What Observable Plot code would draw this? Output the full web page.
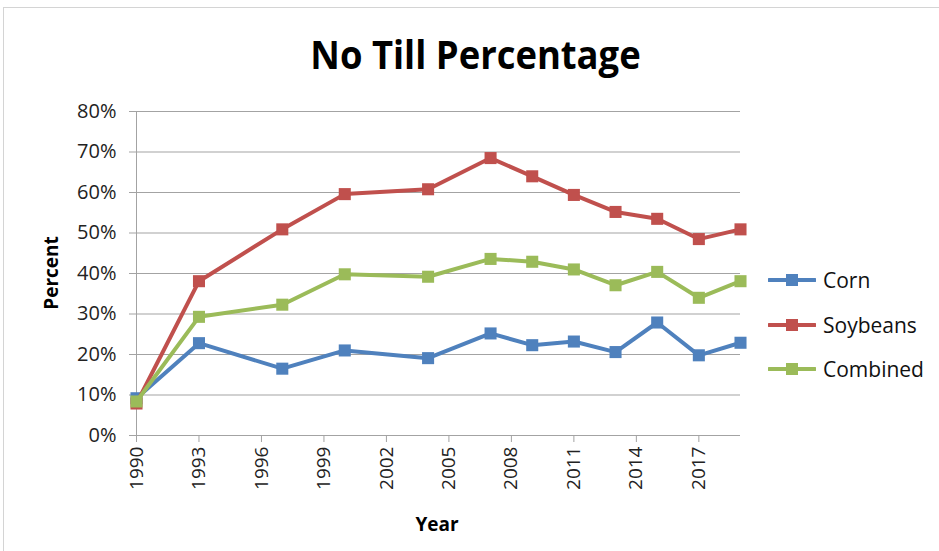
<!DOCTYPE html>
<html>
<head>
<meta charset="utf-8">
<script src="https://cdn.jsdelivr.net/npm/d3@7"></script>
<script src="https://cdn.jsdelivr.net/npm/@observablehq/plot@0.6"></script>
<style>
  html, body { margin: 0; padding: 0; background: #fff; }
  #wrap { position: relative; width: 939px; height: 551px; overflow: hidden; font-family: "Open Sans", sans-serif; }
  #frame { position: absolute; left: 3px; top: 7px; width: 960px; height: 580px; border: 1px solid #d4d4d4; box-sizing: border-box; }
  #title { position: absolute; left: 0; width: 952px; top: 26px; text-align: center; font-weight: bold; font-size: 40px; color: #000; line-height: 56px; }
  #title span { display: inline-block; transform: scaleX(0.91); }
  .axtitle { position: absolute; font-weight: bold; font-size: 19px; color: #000; white-space: nowrap; }
  #ytitle { left: 51px; top: 273px; transform: translate(-50%, -50%) rotate(-90deg); }
  #xtitle { left: 437px; top: 524px; transform: translate(-50%, -50%); }
  #legend { position: absolute; left: 768px; top: 258px; }
  .lrow { display: flex; align-items: center; height: 44.5px; font-size: 21px; color: #111; }
  .lrow svg { margin-right: 7px; }
  #chart { position: absolute; left: 0; top: 0; }
</style>
</head>
<body>
<div id="wrap">
  <div id="frame"></div>
  <div id="chart"></div>
  <div id="title"><span>No Till Percentage</span></div>
  <div class="axtitle" id="ytitle">Percent</div>
  <div class="axtitle" id="xtitle">Year</div>
  <div id="legend"></div>
</div>
<script>
const years = [1990, 1993, 1997, 2000, 2004, 2007, 2009, 2011, 2013, 2015, 2017, 2019];
const corn = [9.2, 22.8, 16.5, 21.0, 19.1, 25.2, 22.3, 23.2, 20.6, 27.9, 19.8, 22.9];
const soybeans = [7.9, 38.1, 50.9, 59.6, 60.8, 68.5, 64.0, 59.4, 55.2, 53.5, 48.5, 50.9];
const combined = [8.4, 29.3, 32.3, 39.8, 39.2, 43.6, 42.9, 41.0, 37.1, 40.4, 34.0, 38.1];
const seriesNames = ["Corn", "Soybeans", "Combined"];
const seriesColors = ["#4F81BD", "#C0504D", "#9BBB59"];
const xTicks = [1990, 1993, 1996, 1999, 2002, 2005, 2008, 2011, 2014, 2017];
const yTicks = [0, 10, 20, 30, 40, 50, 60, 70, 80];

const seriesValues = [corn, soybeans, combined];
const data = seriesNames.flatMap((name, i) =>
  years.map((yr, j) => ({series: name, year: yr, value: seriesValues[i][j]})));

const gridColor = "#a3a3a3";
const marks = [
  Plot.gridY({ticks: yTicks, stroke: gridColor, strokeOpacity: 1, strokeWidth: 1}),
  Plot.ruleX([1990], {stroke: gridColor, strokeWidth: 1}),
  Plot.axisY({ticks: yTicks, tickFormat: d => d + "%", tickSize: 7, tickPadding: 13,
    stroke: gridColor, fill: "#222", fontSize: 20, label: null}),
  Plot.axisX({ticks: xTicks, tickFormat: d => String(d), tickSize: 7, tickPadding: 4,
    tickRotate: -90, stroke: gridColor, fill: "#222", fontSize: 19, label: null}),
];
seriesNames.forEach(name => {
  const d = data.filter(r => r.series === name);
  marks.push(Plot.line(d, {x: "year", y: "value", stroke: "series", strokeWidth: 4, strokeLinejoin: "round"}));
  marks.push(Plot.dot(d, {x: "year", y: "value", fill: "series", symbol: "square", r: 6.8, stroke: null}));
});

const chart = Plot.plot({
  width: 939,
  height: 551,
  marginLeft: 136,
  marginRight: 199,
  marginTop: 111,
  marginBottom: 116,
  style: {fontFamily: "'Open Sans', sans-serif", background: "transparent"},
  x: {domain: [1990, 2019], label: null},
  y: {domain: [0, 80], label: null},
  color: {domain: seriesNames, range: seriesColors},
  marks
});
document.getElementById("chart").appendChild(chart);

const legend = document.getElementById("legend");
seriesNames.forEach((name, i) => {
  const row = document.createElement("div");
  row.className = "lrow";
  row.innerHTML = `<svg width="48" height="14"><line x1="1" y1="7" x2="47" y2="7" stroke="${seriesColors[i]}" stroke-width="4" stroke-linecap="round"/><rect x="18" y="1" width="12" height="12" fill="${seriesColors[i]}"/></svg><span>${name}</span>`;
  legend.appendChild(row);
});
</script>
</body>
</html>
